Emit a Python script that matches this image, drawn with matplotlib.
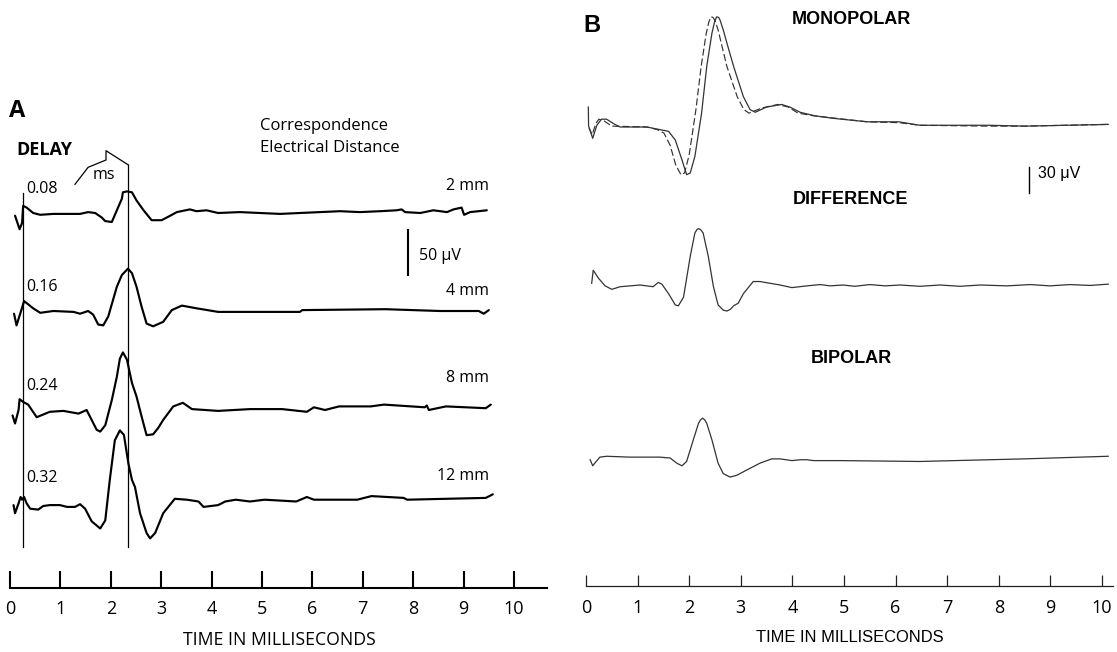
import numpy as np
import matplotlib
matplotlib.use("Agg")
import matplotlib.pyplot as plt

# ---------------- data ----------------
tick_ms = list(range(0, 11))

# Panel A : four traces, time in ms, amplitude in microvolts
a1_ms = [0.10,0.19,0.24,0.26,0.33,0.46,0.60,0.86,1.13,1.39,1.55,1.69,1.82,1.89,2.02,2.12,2.22,2.24,2.32,2.42,
         2.51,2.65,2.81,3.01,3.18,3.31,3.57,3.70,3.90,4.13,4.56,4.96,5.36,5.75,6.15,6.55,6.94,7.34,7.67,7.77,
         7.84,8.14,8.40,8.67,8.80,8.96,9.01,9.13,9.46]
a1_uv = [-3,-18,-11,8,6,0,-2,-1,-1,-1,1,0,-5,-9,-10,3,16,23,24,23,
         14,3,-8,-8,-3,1,4,2,3,0,1,0,-1,0,1,2,1,2,3,4,
         1,0,3,1,4,6,-2,1,3]
a2_ms = [0.08,0.13,0.28,0.46,0.60,0.86,1.26,1.39,1.55,1.65,1.75,1.85,1.95,2.12,2.22,2.34,2.42,2.51,2.61,2.71,
         2.84,3.04,3.21,3.41,3.70,4.13,5.75,5.80,7.45,8.53,9.30,9.40,9.50]
a2_uv = [-3,-16,11,3,-2,0,-1,-3,0,-4,-15,-16,-6,27,40,47,42,27,5,-14,
         -17,-12,1,6,3,-1,-1,1,2,0,0,-3,1]
a3_ms = [0.05,0.10,0.17,0.19,0.26,0.36,0.53,0.79,1.06,1.36,1.52,1.62,1.72,1.79,1.89,2.02,2.12,2.18,2.24,2.32,
         2.42,2.51,2.61,2.71,2.84,2.94,3.04,3.24,3.43,3.61,4.13,4.76,5.40,5.89,6.03,6.25,6.53,7.16,7.42,8.23,
         8.27,8.31,8.65,9.44,9.54]
a3_uv = [-6,-15,0,12,9,6,-8,-2,-1,-4,0,-11,-22,-24,-17,11,37,57,64,56,
         30,15,-7,-28,-27,-20,-11,4,8,1,-1,1,1,-2,3,0,4,4,6,3,
         5,0,4,2,6]
a4_ms = [0.07,0.10,0.17,0.21,0.24,0.28,0.33,0.40,0.56,0.66,0.79,0.99,1.13,1.29,1.39,1.49,1.62,1.79,1.89,1.98,
         2.08,2.18,2.26,2.35,2.42,2.48,2.58,2.71,2.78,2.88,3.04,3.27,3.51,3.74,3.84,4.13,4.27,4.48,4.76,5.05,
         5.68,5.89,6.03,6.89,7.17,7.81,7.88,9.44,9.58]
a4_uv = [1,-8,3,10,7,10,3,-3,-4,0,1,1,-1,-1,2,-3,-17,-25,-16,29,
         73,84,79,47,29,21,-8,-30,-36,-30,-8,8,7,5,-1,1,5,7,5,7,
         5,10,7,7,11,9,7,9,13]
a_delay_labels = ["0.08", "0.16", "0.24", "0.32"]
a_distance_labels = ["2 mm", "4 mm", "8 mm", "12 mm"]
a_marker_ms = [0.25, 2.35]
a_scale_uv = 50

# Panel B : monopolar (solid / dashed), difference, bipolar
bm_solid_ms = [0.045,0.05,0.13,0.21,0.30,0.40,0.53,0.66,1.18,1.43,1.60,1.73,1.86,1.95,2.02,2.11,2.24,2.34,2.44,2.49,
               2.53,2.57,2.60,2.66,2.73,2.86,3.05,3.18,3.28,3.50,3.79,3.95,4.15,4.43,4.79,5.45,6.06,6.47,7.82,8.50,
               10.12]
bm_solid_uv = [23,1,-13,2,9,9,4,0,0,-3,-5,-15,-38,-55,-53,-34,16,70,108,121,
               127,126.5,123,112,97,70,35,20,17,23,26,23,17,13,10,6,6,2,2,1,
               3]
bm_dash_ms = [0.06,0.12,0.19,0.25,0.35,0.50,1.18,1.38,1.51,1.63,1.74,1.84,1.91,2.00,2.13,2.23,2.33,2.38,2.42,2.46,
              2.50,2.56,2.62,2.73,2.93,3.06,3.16,3.41,3.72,3.92,4.11,4.40,5.45,6.06,6.47,7.82,8.50,10.12]
bm_dash_uv = [-1,-9,4,9,7,1,0,-3,-7,-21,-44,-55,-53,-32,20,69,108,121,127,126.5,
              123,112,97,70,35,20,16,22,26,23,16,13,6,5,2,1,1,3]
bd_ms = [0.11,0.14,0.24,0.37,0.50,0.66,1.05,1.30,1.40,1.47,1.60,1.73,1.79,1.89,2.02,2.11,2.15,2.18,2.22,2.27,
         2.37,2.47,2.56,2.66,2.73,2.80,2.86,2.95,3.05,3.24,3.37,3.76,3.99,4.28,4.54,4.73,4.98,5.21,5.50,5.80,
         6.09,6.47,6.86,7.25,7.64,8.16,8.61,8.99,9.38,9.77,10.12]
bd_uv = [2,17,8,-1,-5,-2,0,-2,3,1,-10,-23,-24,-14,33,60,64,65,64,60,
         33,-2,-23,-29,-30,-28,-24,-21,-10,4,4,0,-3,-1,0.5,-1,0,-1.5,0.5,-1,
         0,-1.5,0,-1.5,0,-1,0.5,-1,0.5,-0.5,1]
bb_ms = [0.08,0.13,0.17,0.27,0.40,0.85,1.43,1.63,1.76,1.86,1.95,2.08,2.18,2.22,2.26,2.30,2.34,2.44,2.56,2.66,
         2.79,2.92,3.11,3.37,3.60,3.76,3.99,4.15,4.28,4.41,4.92,6.47,8.50,10.12]
bb_uv = [-2,-9,-6,1,2,1,1,0,-6,-9,-4,21,40,44,46,44,40,21,-6,-18,
         -22,-20,-14,-6,-1,-1,-3,-2,-2,-3,-3,-4,-1,2]
b_trace_labels = ["MONOPOLAR", "DIFFERENCE", "BIPOLAR"]
b_scale_uv = 30
x_label = "TIME IN MILLISECONDS"

# ---------------- layout ----------------
W, H = 1117, 652
fig = plt.figure(figsize=(W / 100, H / 100), dpi=100)
fig.patch.set_facecolor("white")

SANS = ["Open Sans", "DejaVu Sans"]
HELV = ["Liberation Sans", "DejaVu Sans"]


def px_axes(x0, x1, top, bottom):
    return fig.add_axes([x0 / W, 1 - bottom / H, (x1 - x0) / W, (bottom - top) / H])


def ftext(x, y, s, **kw):
    fig.text(x / W, 1 - y / H, s, **kw)


# ---- Panel A ----
A_PXMS, A_PXUV = 50.4, 0.9
A_X0, A_AXIS = 10, 588
axA = px_axes(A_X0, 547, 60, A_AXIS)
axA.set_xlim(0, (547 - A_X0) / A_PXMS)
axA.set_ylim(0, (A_AXIS - 60) / A_PXUV)
axA.set_facecolor("none")
for s in ["top", "right", "left"]:
    axA.spines[s].set_visible(False)
axA.spines["bottom"].set_linewidth(1.5)
axA.set_yticks([])
axA.set_xticks(tick_ms)
axA.tick_params(axis="x", direction="in", length=12.2, width=1.5, pad=9.0,
                labelsize=13, labelfontfamily="Open Sans")

a_base_px = [213, 311, 410, 506]
a_traces = [(a1_ms, a1_uv), (a2_ms, a2_uv), (a3_ms, a3_uv), (a4_ms, a4_uv)]
for (t, v), b in zip(a_traces, a_base_px):
    off = (A_AXIS - b) / A_PXUV
    axA.plot(t, np.array(v) + off, color="black", lw=1.55, clip_on=False,
             solid_joinstyle="round", solid_capstyle="round")

# delay marker lines
marker_top_px = [193, 165]
for m, tp in zip(a_marker_ms, marker_top_px):
    axA.plot([m, m], [(A_AXIS - 547) / A_PXUV, (A_AXIS - tp) / A_PXUV],
             color="black", lw=0.9, clip_on=False)
# bracket above second marker
br_dx = [-1.06, -0.80, -0.445, -0.445, 0.0]
br_px = [184.3, 167.3, 160.0, 150.7, 165.0]
axA.plot([a_marker_ms[1] + d for d in br_dx], [(A_AXIS - p) / A_PXUV for p in br_px],
         color="black", lw=0.9, clip_on=False)

# scale bar A
sbx = (408.3 - A_X0) / A_PXMS
sb0 = (A_AXIS - 275) / A_PXUV
axA.plot([sbx, sbx], [sb0, sb0 + a_scale_uv], color="black", lw=1.5, clip_on=False)
ftext(419, 260, f"{a_scale_uv} μV", fontsize=11.5, family=SANS, va="baseline")

ftext(9, 117, "A", fontsize=17, weight="bold", family=SANS, va="baseline")
ftext(16, 155, "DELAY", fontsize=13, weight="bold", family=SANS, va="baseline")
ftext(260, 129.5, "Correspondence", fontsize=12, family=SANS, va="baseline")
ftext(260, 152.5, "Electrical Distance", fontsize=12, family=SANS, va="baseline")
ftext(93, 179, "ms", fontsize=11.5, family=SANS, va="baseline")
for lab, y in zip(a_delay_labels, [193, 291.5, 390.5, 481.5]):
    ftext(26, y, lab, fontsize=11.5, family=SANS, va="baseline")
for lab, y in zip(a_distance_labels, [190, 295, 381.5, 480.5]):
    ftext(489, y, lab, fontsize=11.5, family=SANS, va="baseline", ha="right")
ftext(279, 645, x_label, fontsize=12.7, family=SANS, va="baseline", ha="center")

# ---- Panel B ----
B_PXMS, B_PXUV = 51.6, 0.867
B_X0, B_AXIS = 586, 586
axB = px_axes(B_X0, 1113, 0, B_AXIS)
axB.set_xlim(0, (1113 - B_X0) / B_PXMS)
axB.set_ylim(0, B_AXIS / B_PXUV)
axB.set_facecolor("none")
for s in ["top", "right", "left"]:
    axB.spines[s].set_visible(False)
axB.spines["bottom"].set_linewidth(0.9)
axB.spines["bottom"].set_color("#222222")
axB.set_yticks([])
axB.set_xticks(tick_ms)
axB.tick_params(axis="x", direction="in", length=8, width=0.9, color="#222222", pad=9.5,
                labelsize=13, labelfontfamily="Open Sans")

b_base_px = [127, 285, 458]
tr_col = "#333333"
offm = (B_AXIS - b_base_px[0]) / B_PXUV
axB.plot(bm_dash_ms, np.array(bm_dash_uv) + offm, color=tr_col, lw=0.85,
         linestyle=(0, (6, 2.5)), clip_on=False)
axB.plot(bm_solid_ms, np.array(bm_solid_uv) + offm, color=tr_col, lw=0.9, clip_on=False)
offd = (B_AXIS - b_base_px[1]) / B_PXUV
axB.plot(bd_ms, np.array(bd_uv) + offd, color=tr_col, lw=0.9, clip_on=False)
offb = (B_AXIS - b_base_px[2]) / B_PXUV
axB.plot(bb_ms, np.array(bb_uv) + offb, color=tr_col, lw=0.9, clip_on=False)

# scale bar B
sbxb = (1029 - B_X0) / B_PXMS
sb0b = (B_AXIS - 193) / B_PXUV
axB.plot([sbxb, sbxb], [sb0b, sb0b + b_scale_uv], color="black", lw=1.0, clip_on=False)
ftext(1038, 178, f"{b_scale_uv} μV", fontsize=11.5, family=HELV, va="baseline")

ftext(583, 32, "B", fontsize=17, weight="bold", family=HELV, va="baseline")
for lab, y in zip(b_trace_labels, [24, 204, 363]):
    ftext(851, y, lab, fontsize=13, weight="bold", family=HELV, va="baseline", ha="center")
ftext(850, 642, x_label, fontsize=11.9, family=HELV, va="baseline", ha="center")

fig.savefig("out.png", dpi=100, facecolor="white")
